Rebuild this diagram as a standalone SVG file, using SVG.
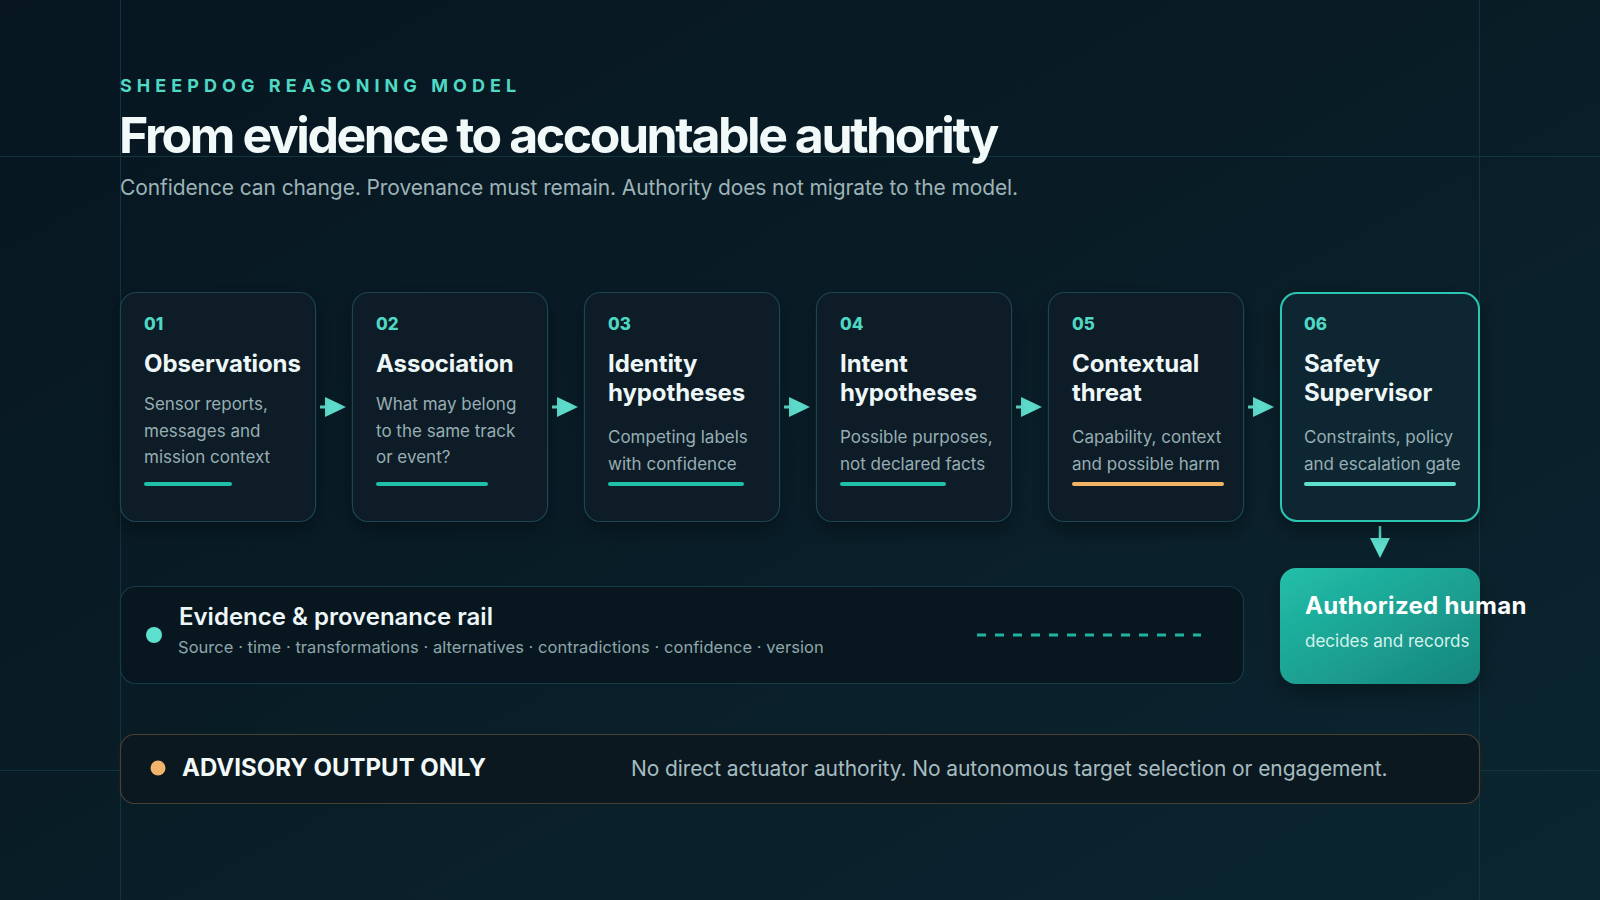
<svg xmlns="http://www.w3.org/2000/svg" width="1600" height="900" viewBox="0 0 1600 900">
  <defs>
    <linearGradient id="bg" x1="0" y1="0" x2="1" y2="1">
      <stop offset="0" stop-color="#071620"/>
      <stop offset="0.5" stop-color="#091d27"/>
      <stop offset="1" stop-color="#0b2631"/>
    </linearGradient>
    <linearGradient id="human" x1="0" y1="0" x2="1" y2="1">
      <stop offset="0" stop-color="#22bfa9"/>
      <stop offset="1" stop-color="#16857d"/>
    </linearGradient>
    <filter id="shadow" x="-20%" y="-20%" width="140%" height="150%">
      <feDropShadow dx="0" dy="8" stdDeviation="10" flood-color="#000000" flood-opacity="0.35"/>
    </filter>
    <style>
      text { font-family: Inter, "Noto Sans", "Liberation Sans", sans-serif; }
      .grid { stroke: #12343c; stroke-width: 1; }
      .card { fill: #0c1a28; stroke: #1a4651; stroke-width: 1.2; }
      .card-final { fill: #0f2833; stroke: #2cc6b2; stroke-width: 2; }
      .num { font-size: 17px; font-weight: 800; fill: #4fd8c4; }
      .title { font-size: 24px; font-weight: 700; fill: #eef7f7; letter-spacing: -0.1px; }
      .desc { font-size: 17px; font-weight: 400; fill: #98aeb3; }
      .bar { fill: #1fbfa8; }
      .arrow { fill: #5fe0cf; }
      .stem { stroke: #5fe0cf; stroke-width: 3; }
    </style>
  </defs>

  <rect x="0" y="0" width="1600" height="900" fill="url(#bg)"/>

  <g id="grid">
    <line class="grid" x1="120.5" y1="0" x2="120.5" y2="900"/>
    <line class="grid" x1="1479.5" y1="0" x2="1479.5" y2="900"/>
    <line class="grid" x1="0" y1="156.5" x2="1600" y2="156.5"/>
    <line class="grid" x1="0" y1="770.5" x2="1600" y2="770.5"/>
  </g>

  <g id="header">
    <text x="120" y="92" font-size="18" font-weight="700" fill="#4fd8c4" letter-spacing="5.05">SHEEPDOG REASONING MODEL</text>
    <text x="119" y="153" font-size="50" font-weight="700" fill="#f2f9f9" letter-spacing="-2.45">From evidence to accountable authority</text>
    <text x="120" y="195" font-size="21" font-weight="400" fill="#9db3b7" letter-spacing="-0.1">Confidence can change. Provenance must remain. Authority does not migrate to the model.</text>
  </g>

  <g id="connectors">
    <g id="arrow-1-2"><line class="stem" x1="320" y1="407" x2="327" y2="407"/><polygon class="arrow" points="325,397 346,407 325,417"/></g>
    <g id="arrow-2-3"><line class="stem" x1="552" y1="407" x2="559" y2="407"/><polygon class="arrow" points="557,397 578,407 557,417"/></g>
    <g id="arrow-3-4"><line class="stem" x1="784" y1="407" x2="791" y2="407"/><polygon class="arrow" points="789,397 810,407 789,417"/></g>
    <g id="arrow-4-5"><line class="stem" x1="1016" y1="407" x2="1023" y2="407"/><polygon class="arrow" points="1021,397 1042,407 1021,417"/></g>
    <g id="arrow-5-6"><line class="stem" x1="1248" y1="407" x2="1255" y2="407"/><polygon class="arrow" points="1253,397 1274,407 1253,417"/></g>
    <g id="arrow-6-human"><line x1="1380" y1="526" x2="1380" y2="540" stroke="#5fe0cf" stroke-width="2.5"/><polygon class="arrow" points="1370,538 1390,538 1380,558"/></g>
  </g>

  <g id="node-01">
    <rect class="card" x="120.5" y="292.5" width="195" height="229" rx="16" filter="url(#shadow)"/>
    <text class="num" x="144" y="330">01</text>
    <text class="title" x="144" y="372">Observations</text>
    <text class="desc" x="144" y="410">Sensor reports,</text>
    <text class="desc" x="144" y="437">messages and</text>
    <text class="desc" x="144" y="463">mission context</text>
    <rect class="bar" x="144" y="482" width="88" height="4" rx="2"/>
  </g>

  <g id="node-02">
    <rect class="card" x="352.5" y="292.5" width="195" height="229" rx="16" filter="url(#shadow)"/>
    <text class="num" x="376" y="330">02</text>
    <text class="title" x="376" y="372">Association</text>
    <text class="desc" x="376" y="410">What may belong</text>
    <text class="desc" x="376" y="437">to the same track</text>
    <text class="desc" x="376" y="463">or event?</text>
    <rect class="bar" x="376" y="482" width="112" height="4" rx="2"/>
  </g>

  <g id="node-03">
    <rect class="card" x="584.5" y="292.5" width="195" height="229" rx="16" filter="url(#shadow)"/>
    <text class="num" x="608" y="330">03</text>
    <text class="title" x="608" y="372">Identity</text>
    <text class="title" x="608" y="401">hypotheses</text>
    <text class="desc" x="608" y="443">Competing labels</text>
    <text class="desc" x="608" y="470">with confidence</text>
    <rect class="bar" x="608" y="482" width="136" height="4" rx="2"/>
  </g>

  <g id="node-04">
    <rect class="card" x="816.5" y="292.5" width="195" height="229" rx="16" filter="url(#shadow)"/>
    <text class="num" x="840" y="330">04</text>
    <text class="title" x="840" y="372">Intent</text>
    <text class="title" x="840" y="401">hypotheses</text>
    <text class="desc" x="840" y="443">Possible purposes,</text>
    <text class="desc" x="840" y="470">not declared facts</text>
    <rect class="bar" x="840" y="482" width="106" height="4" rx="2"/>
  </g>

  <g id="node-05">
    <rect class="card" x="1048.5" y="292.5" width="195" height="229" rx="16" filter="url(#shadow)"/>
    <text class="num" x="1072" y="330">05</text>
    <text class="title" x="1072" y="372">Contextual</text>
    <text class="title" x="1072" y="401">threat</text>
    <text class="desc" x="1072" y="443">Capability, context</text>
    <text class="desc" x="1072" y="470">and possible harm</text>
    <rect x="1072" y="482" width="152" height="4" rx="2" fill="#f2b464"/>
  </g>

  <g id="node-06">
    <rect class="card-final" x="1281" y="293" width="198" height="228" rx="16" filter="url(#shadow)"/>
    <text class="num" x="1304" y="330">06</text>
    <text class="title" x="1304" y="372">Safety</text>
    <text class="title" x="1304" y="401">Supervisor</text>
    <text class="desc" x="1304" y="443">Constraints, policy</text>
    <text class="desc" x="1304" y="470">and escalation gate</text>
    <rect x="1304" y="482" width="152" height="4" rx="2" fill="#5ee0cf"/>
  </g>

  <g id="node-rail">
    <rect x="120.5" y="586.5" width="1123" height="97" rx="15" fill="#08161f" stroke="#153c46" stroke-width="1.2"/>
    <circle cx="154" cy="635" r="8" fill="#5ee0cf"/>
    <text x="179" y="625" font-size="24" font-weight="600" fill="#eef7f7" letter-spacing="0">Evidence &amp; provenance rail</text>
    <text x="178" y="653" font-size="16.5" font-weight="400" fill="#8ea6ab" letter-spacing="0.04">Source · time · transformations · alternatives · contradictions · confidence · version</text>
    <line id="rail-dash" x1="977" y1="635" x2="1201" y2="635" stroke="#20b4a0" stroke-width="3" stroke-dasharray="9 9"/>
  </g>

  <g id="node-human">
    <rect x="1280" y="568" width="200" height="116" rx="16" fill="url(#human)" filter="url(#shadow)"/>
    <text x="1305" y="614" font-size="24" font-weight="700" fill="#ffffff" letter-spacing="0.3">Authorized human</text>
    <text x="1305" y="647" font-size="17" font-weight="400" fill="#d6f3ee">decides and records</text>
  </g>

  <g id="node-advisory">
    <rect x="120.5" y="734.5" width="1359" height="69" rx="14" fill="#0b1820" stroke="#4a4130" stroke-width="1.2"/>
    <circle cx="158" cy="768" r="7.5" fill="#f2b46a"/>
    <text x="182" y="776" font-size="24" font-weight="700" fill="#f2f9f9" letter-spacing="0">ADVISORY OUTPUT ONLY</text>
    <text x="631" y="776" font-size="21" font-weight="400" fill="#a6bdc0" letter-spacing="-0.1">No direct actuator authority. No autonomous target selection or engagement.</text>
  </g>
</svg>
